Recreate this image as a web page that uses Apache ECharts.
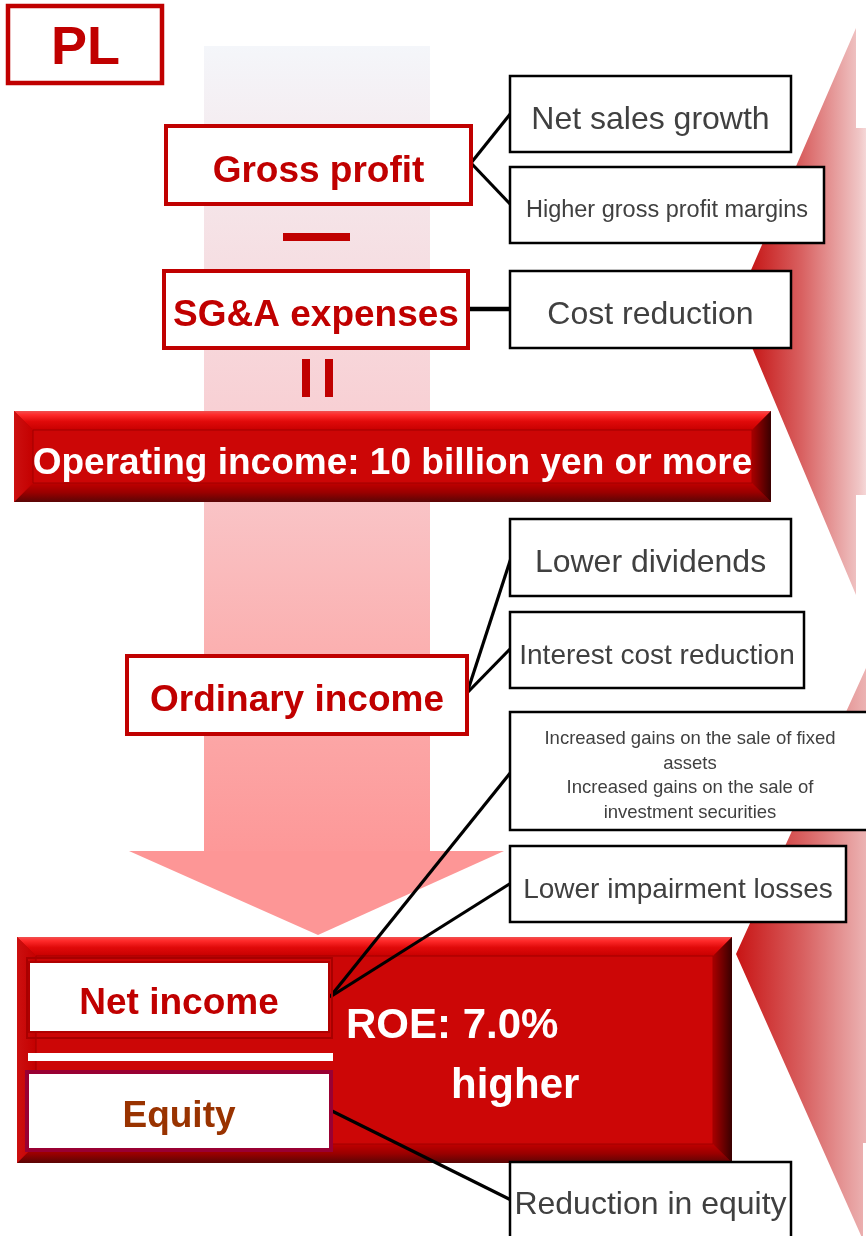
<!DOCTYPE html>
<html>
<head>
<meta charset="utf-8">
<script src="https://cdn.jsdelivr.net/npm/echarts@6/dist/echarts.min.js"></script>
<style>
html,body{margin:0;padding:0;background:#ffffff;}
#chart{width:866px;height:1236px;}
</style>
</head>
<body>
<div id="chart"></div>
<script>
// ---------- content (text only) ----------
const titleLabel = 'PL';
const profitSteps = ['Gross profit', 'SG&A expenses', 'Ordinary income'];
const operatingTarget = 'Operating income: 10 billion yen or more';
const roeParts = ['Net income', 'Equity'];
const roeTarget = ['ROE: 7.0%', 'higher'];
const grossDrivers = ['Net sales growth', 'Higher gross profit margins'];
const sgaDrivers = ['Cost reduction'];
const ordinaryDrivers = ['Lower dividends', 'Interest cost reduction'];
const netIncomeDrivers = [
  'Increased gains on the sale of fixed\nassets\nIncreased gains on the sale of\ninvestment securities',
  'Lower impairment losses'
];
const equityDrivers = ['Reduction in equity'];

// ---------- styling ----------
const FONT = '"Liberation Sans", Arial, Helvetica, sans-serif';
const RED = '#c00000';
const GREY = '#404040';
const TEXT_DY = 3.5;
const LG = (x0, y0, x1, y1, stops) =>
  new echarts.graphic.LinearGradient(x0, y0, x1, y1, stops.map(s => ({offset: s[0], color: s[1]})));

const els = [];
let zc = 0;
function add(e) { e.z = zc++; e.silent = true; els.push(e); return e; }
function rect(x, y, w, h, style) { add({type: 'rect', shape: {x, y, width: w, height: h}, style}); }
function poly(points, fill) { add({type: 'polygon', shape: {points}, style: {fill}}); }
function line(x1, y1, x2, y2, lw) { add({type: 'line', shape: {x1, y1, x2, y2}, style: {stroke: '#000', lineWidth: lw || 3.2}}); }
function text(str, x, y, font, fill, align, lh) {
  add({type: 'text', x, y: y + TEXT_DY, style: {text: str, font, fill, align: align || 'center', verticalAlign: 'middle', lineHeight: lh}});
}
function bevelBox(x, y, w, h, b) {
  rect(x, y, w, h, {fill: '#b80000'});
  poly([[x, y], [x + w, y], [x + w - b, y + b], [x + b, y + b]],
       LG(0, 0, 0, 1, [[0, '#f05050'], [0.2, '#ff2a2a'], [0.55, '#e00a0a'], [1, '#c80000']]));
  poly([[x + b, y + h - b], [x + w - b, y + h - b], [x + w, y + h], [x, y + h]],
       LG(0, 0, 0, 1, [[0, '#c00000'], [0.5, '#9a0000'], [1, '#5a0505']]));
  poly([[x, y], [x + b, y + b], [x + b, y + h - b], [x, y + h]],
       LG(0, 0, 1, 0, [[0, '#cc1010'], [1, '#c40000']]));
  poly([[x + w, y], [x + w - b, y + b], [x + w - b, y + h - b], [x + w, y + h]],
       LG(0, 0, 1, 0, [[0, '#a80000'], [1, '#380000']]));
  rect(x + b, y + b, w - 2 * b, h - 2 * b, {fill: '#cc0606', stroke: '#a00000', lineWidth: 1});
}
function redBox(x, y, w, h, label, ty) {
  rect(x, y, w, h, {fill: '#fff', stroke: RED, lineWidth: 4});
  text(label, x + w / 2, ty, 'bold 37px ' + FONT, RED);
}
function driverBox(x, y, w, h, label, ty, size, lh) {
  rect(x, y, w, h, {fill: '#fff', stroke: '#000', lineWidth: 2.5});
  text(label, x + w / 2, ty, size + 'px ' + FONT, GREY, 'center', lh);
}

// ---------- background arrows ----------
rect(204, 46, 226, 806, {fill: LG(0, 0, 0, 1, [[0, '#f4f6fa'], [0.2, '#f5e4e8'], [0.45, '#f8d0d4'], [0.75, '#fbb0b0'], [1, '#fd9898']])});
poly([[129, 851], [504, 851], [318, 935]], '#fd9696');

// right-hand left-pointing arrows
poly([[856, 28], [856, 128], [870, 128], [870, 495], [856, 495], [856, 595], [735, 307]],
     LG(0, 0, 1, 0, [[0, '#c00000'], [0.5, '#d96262'], [0.92, '#f0c6c6'], [1, '#f8e2e2']]));
poly([[866, 668], [870, 668], [870, 1143], [863, 1143], [863, 1240], [736, 954]],
     LG(0, 0, 1, 0, [[0, '#c81414'], [0.5, '#d86060'], [1, '#edb8b8']]));

// ---------- big red boxes ----------
bevelBox(14, 411, 757, 91, 19);
text(operatingTarget, 392.5, 460, 'bold 37px ' + FONT, '#ffffff');

bevelBox(17, 937, 715, 226, 19);

// ---------- connectors ----------
line(471, 163, 511, 113);
line(471, 163, 511, 205);
line(468, 309, 511, 309, 4.5);
line(467, 693, 511, 558);
line(467, 693, 511, 648);
line(330, 997, 511, 772);
line(330, 997, 511, 883);
line(330, 1110, 511, 1200);

// ---------- left column ----------
rect(8, 6, 154, 77, {fill: '#fff', stroke: RED, lineWidth: 4.5});
text(titleLabel, 85.5, 46, 'bold 54px ' + FONT, RED);

redBox(166, 126, 305, 78, profitSteps[0], 168);
rect(283, 233, 67, 8, {fill: RED});
redBox(164, 271, 304, 77, profitSteps[1], 312);
rect(302, 359, 8, 38, {fill: RED});
rect(325, 359, 8, 38, {fill: RED});
redBox(127, 656, 340, 78, profitSteps[2], 697.5);

// net income / equity inside ROE box
rect(27, 958, 305, 80, {fill: 'none', stroke: '#a80000', lineWidth: 2});
rect(29, 962, 300, 70, {fill: '#fff', stroke: '#b00000', lineWidth: 2});
text(roeParts[0], 179, 1000, 'bold 37px ' + FONT, RED);
rect(28, 1053, 305, 8, {fill: '#fff'});
rect(27, 1072, 304, 78, {fill: '#fff', stroke: '#990033', lineWidth: 4});
text(roeParts[1], 179, 1113, 'bold 37px ' + FONT, '#993300');
text(roeTarget[0], 346, 1023, 'bold 42px ' + FONT, '#ffffff', 'left');
text(roeTarget[1], 451, 1083, 'bold 42px ' + FONT, '#ffffff', 'left');

// ---------- right column (drivers) ----------
driverBox(510, 76, 281, 76, grossDrivers[0], 116.5, 32);
driverBox(510, 167, 314, 76, grossDrivers[1], 207.5, 23.5);
driverBox(510, 271, 281, 77, sgaDrivers[0], 311.5, 32);
driverBox(510, 519, 281, 77, ordinaryDrivers[0], 560, 32);
driverBox(510, 612, 294, 76, ordinaryDrivers[1], 653, 28);
driverBox(510, 712, 360, 118, netIncomeDrivers[0], 772.5, 18.5, 24.4);
driverBox(510, 846, 336, 76, netIncomeDrivers[1], 886.5, 28);
driverBox(510, 1162, 281, 90, equityDrivers[0], 1201.5, 32);

const chart = echarts.init(document.getElementById('chart'), null, {renderer: 'canvas', width: 866, height: 1236});
chart.setOption({
  animation: false,
  backgroundColor: '#ffffff',
  graphic: {elements: els}
});
</script>
</body>
</html>
